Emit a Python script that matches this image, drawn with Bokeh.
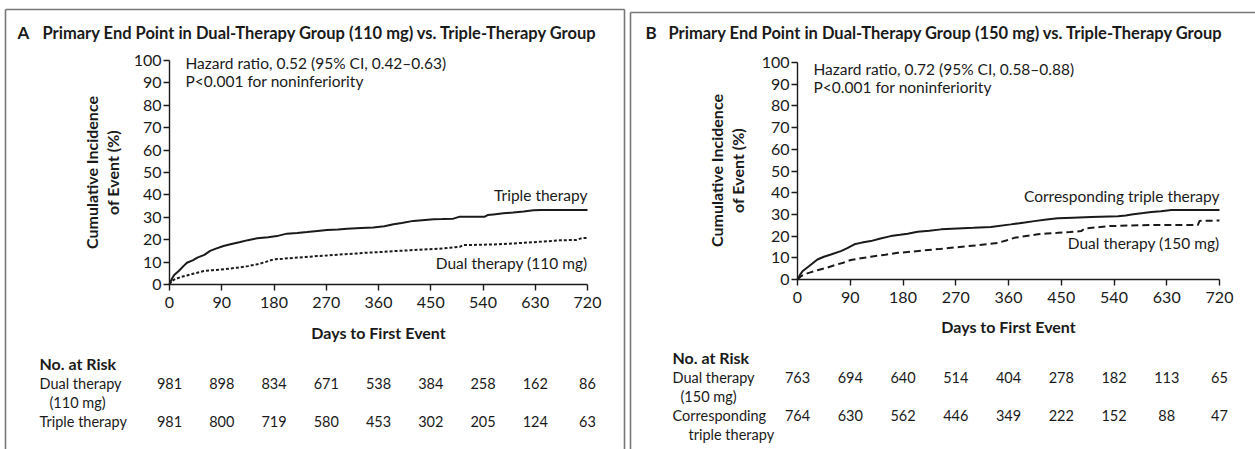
import math
from bokeh.plotting import figure
from bokeh.models import Range1d, FixedTicker
from bokeh.layouts import row
from bokeh.core.properties import value
from bokeh.embed import file_html
from bokeh.resources import INLINE

FONT = "Lato"
INK = "#1a1a1a"
RULE = "#777777"
H = 449

day_ticks = [0, 90, 180, 270, 360, 450, 540, 630, 720]
pct_ticks = [0, 10, 20, 30, 40, 50, 60, 70, 80, 90, 100]

# ---- Panel A: dual therapy 110 mg vs. triple therapy ----
a_triple_days = [0, 4, 8, 16, 24, 30, 40, 48, 60, 70, 80, 93, 105, 122, 135, 151,
                 170, 185, 202, 220, 237, 255, 271, 290, 306, 330, 351, 370, 386,
                 400, 420, 440, 455, 470, 489, 500, 520, 543, 548, 558, 575, 592,
                 610, 627, 640, 720]
a_triple_pct = [0, 2.5, 4.2, 6.0, 8.2, 9.7, 10.8, 12.0, 13.2, 15.0, 16.0, 17.2,
                18.0, 19.0, 19.8, 20.6, 21.1, 21.6, 22.7, 23.0, 23.4, 23.9, 24.3,
                24.6, 24.9, 25.2, 25.4, 26.0, 26.9, 27.5, 28.4, 28.8, 29.1, 29.2,
                29.4, 30.3, 30.3, 30.3, 31.0, 31.3, 31.8, 32.1, 32.6, 33.1, 33.3, 33.3]
a_dual_days = [0, 4, 8, 19, 30, 42, 59, 75, 88, 100, 116, 135, 151, 165, 179, 195,
               214, 235, 254, 275, 294, 320, 340, 365, 386, 415, 443, 465, 483,
               500, 506, 530, 558, 590, 615, 645, 672, 700, 712, 720]
a_dual_pct = [0, 1.5, 2.2, 3.3, 4.0, 4.9, 6.0, 6.4, 6.7, 7.0, 7.5, 8.2, 9.0, 10.0,
              11.2, 11.5, 11.9, 12.3, 12.7, 13.0, 13.4, 13.8, 14.2, 14.5, 14.9,
              15.3, 15.7, 16.0, 16.4, 16.8, 17.6, 17.7, 17.9, 18.3, 18.7, 19.2,
              19.7, 19.9, 20.8, 20.8]
a_risk_dual = [981, 898, 834, 671, 538, 384, 258, 162, 86]
a_risk_triple = [981, 800, 719, 580, 453, 302, 205, 124, 63]

# ---- Panel B: dual therapy 150 mg vs. corresponding triple therapy ----
b_triple_days = [0, 4, 8.5, 20, 34, 45, 57, 74, 85, 97, 110, 125, 140, 159, 175,
                 188, 205, 225, 245, 273, 300, 330, 364, 385, 404, 425, 444, 470,
                 501, 547, 560, 570, 590, 604, 620, 638, 720]
b_triple_pct = [0, 2.0, 3.8, 6.2, 9.2, 10.5, 11.5, 13.1, 14.5, 16.2, 17.0, 17.7,
                18.8, 20.0, 20.6, 21.1, 22.0, 22.5, 23.1, 23.5, 23.8, 24.2, 25.4,
                26.2, 26.9, 27.6, 28.2, 28.5, 28.8, 29.2, 29.5, 30.0, 30.6, 31.1,
                31.5, 32.0, 32.0]
b_dual_days = [0, 5, 11, 22, 34, 50, 63, 78, 91, 108, 125, 150, 171, 195, 216,
               240, 262, 285, 308, 325, 342, 356, 370, 390, 410, 425, 444, 465,
               484, 490, 510, 530, 570, 604, 640, 683, 686, 720]
b_dual_pct = [0, 1.3, 2.3, 3.3, 4.3, 5.4, 6.6, 7.7, 9.0, 9.8, 10.5, 11.4, 12.3,
              12.8, 13.4, 14.0, 14.6, 15.2, 15.8, 16.3, 16.9, 18.0, 19.2, 20.0,
              20.8, 21.2, 21.5, 21.9, 22.3, 23.5, 24.0, 24.6, 24.9, 25.1, 25.1,
              25.1, 27.0, 27.2]
b_risk_dual = [763, 694, 640, 514, 404, 278, 182, 113, 65]
b_risk_triple = [764, 630, 562, 446, 349, 222, 152, 88, 47]


def make_panel(g):
    px0, px1 = g["page_x"]
    ax0, ax1 = g["axis_px"]
    y100, y0 = g["y_px"]
    sx = (ax1 - ax0) / 720.0
    sy = (y0 - y100) / 100.0

    # page pixels -> data coordinates (for text and rules around the plot)
    def X(px):
        return (px - ax0) / sx

    def Y(py):
        return (y0 - py) / sy

    # the frame fills the whole panel; the axes sit at day 0 / 0 %
    p = figure(width=px1 - px0, height=H, output_backend="svg",
               toolbar_location=None,
               x_range=Range1d(X(px0), X(px1)), y_range=Range1d(Y(H), Y(0)),
               min_border_left=0, min_border_right=0,
               min_border_top=0, min_border_bottom=0)
    p.outline_line_color = None
    p.grid.visible = False
    p.background_fill_color = "white"
    p.border_fill_color = "white"

    p.xaxis.fixed_location = 0
    p.yaxis.fixed_location = 0
    p.xaxis.bounds = (0, 720)
    p.yaxis.bounds = (0, 100)
    p.xaxis.ticker = FixedTicker(ticks=day_ticks)
    p.yaxis.ticker = FixedTicker(ticks=pct_ticks)
    for ax in (p.xaxis, p.yaxis):
        ax.minor_tick_line_color = None
        ax.major_tick_out = 6
        ax.major_tick_in = 0
        ax.axis_line_width = 1.4
        ax.major_tick_line_width = 1.4
        ax.axis_line_color = INK
        ax.major_tick_line_color = INK
        ax.major_label_text_font = FONT
        ax.major_label_text_font_size = "16px"
        ax.major_label_text_color = INK
    p.yaxis.major_label_standoff = 2
    p.xaxis.major_label_standoff = 6

    def txt(x, y, text, size="15.5px", bold=False, align="left", angle=0.0):
        p.text(x=[x], y=[y], text=[text], text_font=value(FONT),
               text_font_size=size, text_color=INK, angle=angle,
               text_font_style="bold" if bold else "normal",
               text_align=align, text_baseline="middle")

    # panel rules
    for (xa, ya, xb, yb) in g["rules"]:
        p.segment(x0=[X(xa)], y0=[Y(ya)], x1=[X(xb)], y1=[Y(yb)],
                  line_color=RULE, line_width=1.6)

    # heading
    txt(X(g["letter_x"]), Y(32), g["letter"], size="17px", bold=True)
    txt(X(g["title_x"]), Y(32), g["title"], size="16.5px", bold=True)

    # axis titles
    yl = g["ylabel"]
    txt(X(yl[0]), Y(yl[2]), "Cumulative Incidence", size="16px", bold=True,
        align="center", angle=math.pi / 2)
    txt(X(yl[1]), Y(yl[2]), "of Event (%)", size="16px", bold=True,
        align="center", angle=math.pi / 2)
    txt(360, Y(g["xlabel_y"]), "Days to First Event", size="16px", bold=True,
        align="center")

    # survival curves
    p.line(g["triple"][0], g["triple"][1], line_color=INK, line_width=2.0)
    p.line(g["dual"][0], g["dual"][1], line_color=INK, line_width=2.0,
           line_dash=g["dash"])

    # statistics
    txt(X(g["stat_x"]), Y(g["stat_y"]), g["hr"], size="15.5px")
    txt(X(g["stat_x"]), Y(g["stat_y"] + 18), "P<0.001 for noninferiority",
        size="15.5px")

    # curve labels
    for text, ypx in g["curve_labels"]:
        txt(720, Y(ypx), text, size="15.5px", align="right")

    # numbers at risk
    txt(X(g["table_x"]), Y(g["risk_y"]), "No. at Risk", size="16px", bold=True)
    for text, ypx, indent in g["row_labels"]:
        txt(X(g["table_x"] + indent), Y(ypx), text, size="14.5px")
    for counts, ypx in g["rows"]:
        p.text(x=day_ticks, y=[Y(ypx)] * len(day_ticks),
               text=[str(c) for c in counts],
               text_font=value(FONT), text_font_size="14.5px", text_color=INK,
               text_align="center", text_baseline="middle")
    return p


panel_a = dict(
    page_x=(0, 626), axis_px=(169, 587), y_px=(60, 284),
    rules=[(5, 9, 5, H), (5, 9, 624, 9), (624, 9, 624, H)],
    letter="A", letter_x=17, title_x=42,
    title="Primary End Point in Dual-Therapy Group (110 mg) vs. Triple-Therapy Group",
    ylabel=(91, 112, 172), xlabel_y=332,
    stat_x=185, stat_y=62,
    hr="Hazard ratio, 0.52 (95% CI, 0.42\u20130.63)",
    triple=(a_triple_days, a_triple_pct), dual=(a_dual_days, a_dual_pct),
    dash="3 2",
    curve_labels=[("Triple therapy", 194), ("Dual therapy (110 mg)", 262)],
    table_x=39, risk_y=363,
    row_labels=[("Dual therapy", 383, 0), ("(110 mg)", 402, 10),
                ("Triple therapy", 421, 0)],
    rows=[(a_risk_dual, 383), (a_risk_triple, 421)],
)

panel_b = dict(
    page_x=(626, 1255), axis_px=(797, 1219), y_px=(62, 279),
    rules=[(630, 12, 630, H), (630, 12, 1255, 12)],
    letter="B", letter_x=645, title_x=668,
    title="Primary End Point in Dual-Therapy Group (150 mg) vs. Triple-Therapy Group",
    ylabel=(716, 737, 170), xlabel_y=326,
    stat_x=813, stat_y=68,
    hr="Hazard ratio, 0.72 (95% CI, 0.58\u20130.88)",
    triple=(b_triple_days, b_triple_pct), dual=(b_dual_days, b_dual_pct),
    dash="7 4",
    curve_labels=[("Corresponding triple therapy", 195), ("Dual therapy (150 mg)", 242)],
    table_x=672, risk_y=357,
    row_labels=[("Dual therapy", 377, 0), ("(150 mg)", 396, 8),
                ("Corresponding", 415, 0), ("triple therapy", 434, 16)],
    rows=[(b_risk_dual, 377), (b_risk_triple, 415)],
)

layout = row(make_panel(panel_a), make_panel(panel_b))

open("out.html", "w").write(file_html(layout, INLINE))
